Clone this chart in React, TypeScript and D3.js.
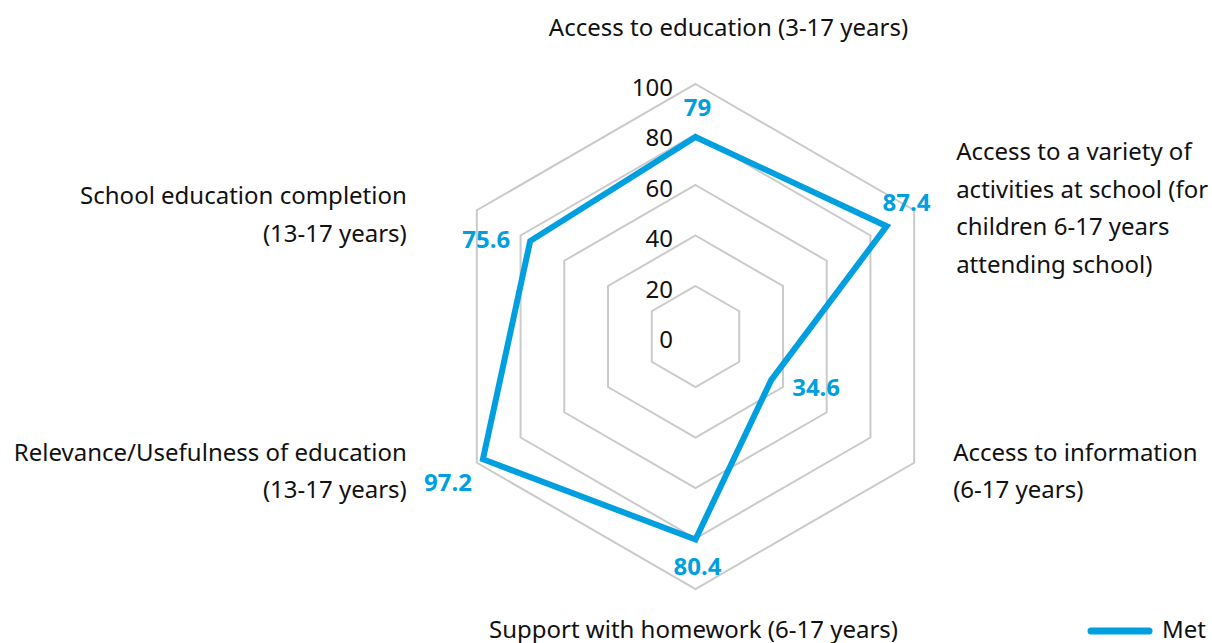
import React from "react";
import * as d3 from "d3";

const categories = [
  ["Access to education (3-17 years)"],
  ["Access to a variety of", "activities at school (for", "children 6-17 years", "attending school)"],
  ["Access to information", "(6-17 years)"],
  ["Support with homework (6-17 years)"],
  ["Relevance/Usefulness of education", "(13-17 years)"],
  ["School education completion", "(13-17 years)"],
];
const metValues = [79, 87.4, 34.6, 80.4, 97.2, 75.6];
const gridLevels = [20, 40, 60, 80, 100];
const tickLabels = [0, 20, 40, 60, 80, 100];
const seriesName = "Met";

const W = 1212;
const H = 643;
const cx = 695.5;
const cy = 336.5;
const R = 252.5;
const BLUE = "#009fe0";
const GRID = "#cacaca";
const FONT = "'Noto Sans', 'Open Sans', sans-serif";
const FS = 24;
const TY = -2; // global text vertical nudge

// label layout relative to outer vertex of each axis: [anchor, dx, dy]
const catLayout: [string, number, number][] = [
  ["middle", 33, -56],
  ["start", 42, -58],
  ["start", 39, -10],
  ["middle", -2, 41],
  ["end", -70, -10],
  ["end", -70, -14],
];
// data label offsets relative to data point: [anchor, dx, dy]
const valLayout: [string, number, number][] = [
  ["middle", 2, -29],
  ["start", -4, -23],
  ["start", 21, 8],
  ["middle", 2, 28],
  ["end", -11, 24],
  ["end", -20, -1],
];

export default function App() {
  const r = d3.scaleLinear().domain([0, 100]).range([0, R]);
  const n = categories.length;
  const angle = (i: number) => (i * 2 * Math.PI) / n;
  const pt = (i: number, v: number): [number, number] => [
    cx + r(v) * Math.sin(angle(i)),
    cy - r(v) * Math.cos(angle(i)),
  ];
  const lineGen = d3.line<[number, number]>().curve(d3.curveLinearClosed);
  const lineH = 37.5;

  return (
    <svg
      width={W}
      height={H}
      style={{ position: "absolute", left: 0, top: 0, background: "#fff" }}
      fontFamily={FONT}
    >
      {gridLevels.map((lv) => (
        <path
          key={lv}
          d={lineGen(d3.range(n).map((i) => pt(i, lv))) || ""}
          fill="none"
          stroke={GRID}
          strokeWidth={2}
        />
      ))}
      <path
        d={lineGen(metValues.map((v, i) => pt(i, v))) || ""}
        fill="none"
        stroke={BLUE}
        strokeWidth={6}
        strokeLinejoin="miter"
      />
      {tickLabels.map((t) => (
        <text
          key={t}
          x={673}
          y={cy - r(t) + 4 + TY}
          textAnchor="end"
          dominantBaseline="central"
          fontSize={FS}
          fill="#111"
        >
          {t}
        </text>
      ))}
      {metValues.map((v, i) => {
        const [x, y] = pt(i, v);
        const [a, dx, dy] = valLayout[i];
        return (
          <text
            key={i}
            x={x + dx}
            y={y + dy + TY}
            textAnchor={a}
            dominantBaseline="central"
            fontSize={FS}
            fontWeight="bold"
            fill={BLUE}
          >
            {v}
          </text>
        );
      })}
      {categories.map((lines, i) => {
        const [x, y] = pt(i, 100);
        const [a, dx, dy] = catLayout[i];
        return (
          <text
            key={i}
            textAnchor={a}
            dominantBaseline="central"
            fontSize={FS}
            fill="#111"
          >
            {lines.map((ln, k) => (
              <tspan key={k} x={x + dx} y={y + dy + k * lineH + TY}>
                {ln}
              </tspan>
            ))}
          </text>
        );
      })}
      <line
        x1={1091}
        x2={1149}
        y1={631}
        y2={631}
        stroke={BLUE}
        strokeWidth={7}
        strokeLinecap="round"
      />
      <text x={1162} y={628} dominantBaseline="central" fontSize={FS} fill="#111">
        {seriesName}
      </text>
    </svg>
  );
}
